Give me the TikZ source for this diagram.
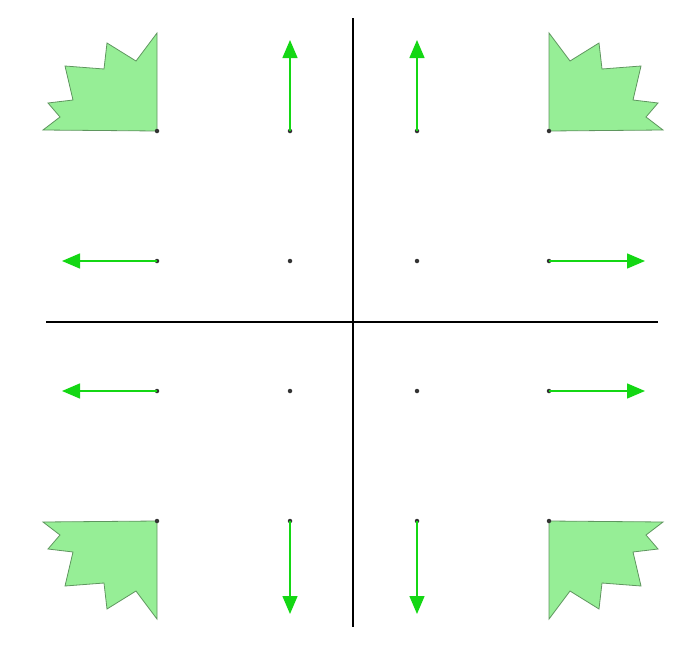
\documentclass[tikz,border=0pt]{standalone}
\usetikzlibrary{arrows.meta}
\definecolor{arrgreen}{RGB}{20,215,20}
\definecolor{starfill}{RGB}{150,238,150}
\definecolor{staredge}{RGB}{95,150,95}
\tikzset{
  dotnode/.style={circle,fill=black!80,inner sep=0pt,minimum size=4.5pt},
  axisline/.style={line width=2pt,black},
  greenarrow/.style={arrgreen,line width=1.5pt,-{Triangle[length=18pt,width=15pt]}},
  starshape/.style={fill=starfill,draw=staredge,line width=0.8pt,line join=miter}
}
\begin{document}
\begin{tikzpicture}[x=1pt,y=-1pt]
\useasboundingbox (0,0) rectangle (683,648);
% axes
\coordinate (vt) at (352.5,18);
\coordinate (vb) at (352.5,627);
\coordinate (hl) at (46,322);
\coordinate (hr) at (658,322);
\draw[axisline] (vt) -- (vb);
\draw[axisline] (hl) -- (hr);
% star shapes
\def\starpath{(0,0) -- (0,-98) -- (-21,-70) -- (-50,-88) -- (-53,-62) -- (-92,-65) -- (-84,-31) -- (-109,-28) -- (-97,-14) -- (-114,-1) -- cycle}
\begin{scope}[shift={(157,131)}]
  \path[starshape] \starpath;
\end{scope}
\begin{scope}[shift={(549,131)},xscale=-1]
  \path[starshape] \starpath;
\end{scope}
\begin{scope}[shift={(157,521)},yscale=-1]
  \path[starshape] \starpath;
\end{scope}
\begin{scope}[shift={(549,521)},xscale=-1,yscale=-1]
  \path[starshape] \starpath;
\end{scope}
% arrow end points
\coordinate (u1) at (290,40);
\coordinate (u2) at (417,40);
\coordinate (l1) at (62,261);
\coordinate (r1) at (645,261);
\coordinate (l2) at (62,391);
\coordinate (r2) at (645,391);
\coordinate (d1) at (290,614);
\coordinate (d2) at (417,614);
% dots
\node[dotnode] (a1) at (157,131) {};
\node[dotnode] (a2) at (290,131) {};
\node[dotnode] (a3) at (417,131) {};
\node[dotnode] (a4) at (549,131) {};
\node[dotnode] (b1) at (157,261) {};
\node[dotnode] (b2) at (290,261) {};
\node[dotnode] (b3) at (417,261) {};
\node[dotnode] (b4) at (549,261) {};
\node[dotnode] (c1) at (157,391) {};
\node[dotnode] (c2) at (290,391) {};
\node[dotnode] (c3) at (417,391) {};
\node[dotnode] (c4) at (549,391) {};
\node[dotnode] (e1) at (157,521) {};
\node[dotnode] (e2) at (290,521) {};
\node[dotnode] (e3) at (417,521) {};
\node[dotnode] (e4) at (549,521) {};
% arrows
\draw[greenarrow] (a2.center) -- (u1);
\draw[greenarrow] (a3.center) -- (u2);
\draw[greenarrow] (b1.center) -- (l1);
\draw[greenarrow] (b4.center) -- (r1);
\draw[greenarrow] (c1.center) -- (l2);
\draw[greenarrow] (c4.center) -- (r2);
\draw[greenarrow] (e2.center) -- (d1);
\draw[greenarrow] (e3.center) -- (d2);
\end{tikzpicture}
\end{document}
